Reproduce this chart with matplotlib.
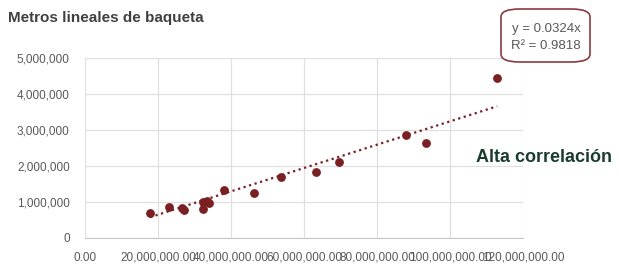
import numpy as np
import matplotlib.pyplot as plt
from matplotlib.patches import FancyBboxPatch

plt.rcParams['font.family'] = ['Liberation Sans', 'DejaVu Sans']

# Data (x: ventas?, y: metros lineales)
x_vals = [17.8e6, 23.0e6, 26.6e6, 27.1e6, 32.3e6, 32.3e6, 33.4e6, 34.0e6,
          38.1e6, 46.3e6, 53.7e6, 63.3e6, 69.6e6, 87.9e6, 93.4e6, 112.9e6]
y_vals = [0.69e6, 0.86e6, 0.83e6, 0.77e6, 0.80e6, 1.00e6, 1.03e6, 0.98e6,
          1.33e6, 1.24e6, 1.70e6, 1.82e6, 2.12e6, 2.86e6, 2.63e6, 4.44e6]
slope = 0.0324
r2 = 0.9818

x_ticks = np.arange(0, 120e6 + 1, 20e6)
y_ticks = np.arange(0, 5e6 + 1, 1e6)

point_color = '#7a1f22'
text_gray = '#595959'

fig = plt.figure(figsize=(6.19, 2.66), dpi=100)
ax = fig.add_axes([85 / 619, 1 - 238 / 266, (523 - 85) / 619, (238 - 58) / 266])

ax.scatter(x_vals, y_vals, s=40, color=point_color, zorder=3, linewidths=0)

# Linear trendline through origin
tx = np.array([min(x_vals), max(x_vals)])
ax.plot(tx, slope * tx, linestyle=(0, (1, 1.6)), color=point_color, lw=1.6, zorder=2)

ax.set_xlim(0, 120e6)
ax.set_ylim(0, 5e6)
ax.set_xticks(x_ticks)
ax.set_yticks(y_ticks)
ax.set_xticklabels([f'{v:,.2f}' for v in x_ticks])
ax.set_yticklabels([f'{int(v):,}' for v in y_ticks])
ax.tick_params(length=0, labelsize=8.5, colors=text_gray)
ax.tick_params(axis='y', pad=11)
ax.tick_params(axis='x', pad=10)
ax.grid(True, color='#e0e0e0', lw=0.9)
ax.set_axisbelow(True)
for side in ['top', 'right', 'left']:
    ax.spines[side].set_visible(False)
ax.spines['bottom'].set_color('#c8c8c8')

fig.text(8 / 619, 1 - 18 / 266, 'Metros lineales de baqueta', fontsize=11,
         fontweight='bold', color='#404040', va='center', ha='left')

# Equation box
box = FancyBboxPatch((501 / 619, 1 - 62 / 266), 89 / 619, 53 / 266,
                     boxstyle='round,pad=0,rounding_size=0.03',
                     transform=fig.transFigure, facecolor='white',
                     edgecolor='#8b3a3e', lw=1.2)
fig.patches.append(box)
fig.text(546 / 619, 1 - 29 / 266, f'y = {slope}x', fontsize=9.5, color=text_gray,
         ha='center', va='center')
fig.text(546 / 619, 1 - 46 / 266, f'R² = {r2}', fontsize=9.5, color=text_gray,
         ha='center', va='center')

fig.text(612 / 619, 1 - 157 / 266, 'Alta correlación', fontsize=13,
         fontweight='bold', color='#1b3d30', ha='right', va='center')

fig.savefig('out.png', dpi=100)
